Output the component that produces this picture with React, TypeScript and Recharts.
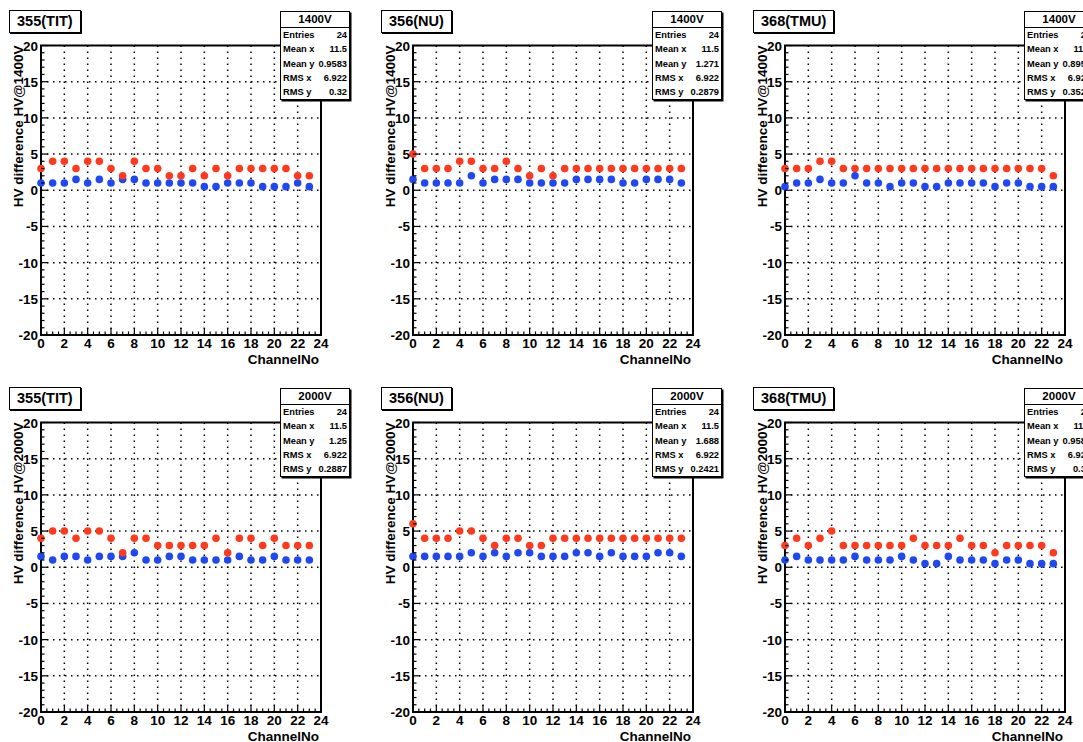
import React from 'react';
import { ScatterChart, Scatter, XAxis, YAxis, ReferenceLine, ReferenceArea } from 'recharts';

const FONT = '"Liberation Sans", Arial, Helvetica, sans-serif';
const RED = '#ff3a1c';
const BLUE = '#1f48f2';

const channels = [0, 1, 2, 3, 4, 5, 6, 7, 8, 9, 10, 11, 12, 13, 14, 15, 16, 17, 18, 19, 20, 21, 22, 23];

// 1400V
const red355_1400 = [3, 4, 4, 3, 4, 4, 3, 2, 4, 3, 3, 2, 2, 3, 2, 3, 2, 3, 3, 3, 3, 3, 2, 2];
const blue355_1400 = [1, 1, 1, 1.5, 1, 1.5, 1, 1.5, 1.5, 1, 1, 1, 1, 1, 0.5, 0.5, 1, 1, 1, 0.5, 0.5, 0.5, 1, 0.5];
const red356_1400 = [5, 3, 3, 3, 4, 4, 3, 3, 4, 3, 2, 3, 2, 3, 3, 3, 3, 3, 3, 3, 3, 3, 3, 3];
const blue356_1400 = [1.5, 1, 1, 1, 1, 2, 1, 1.5, 1.5, 1.5, 1, 1, 1, 1, 1.5, 1.5, 1.5, 1.5, 1, 1, 1.5, 1.5, 1.5, 1];
const red368_1400 = [3, 3, 3, 4, 4, 3, 3, 3, 3, 3, 3, 3, 3, 3, 3, 3, 3, 3, 3, 3, 3, 3, 3, 2];
const blue368_1400 = [0.5, 1, 1, 1.5, 1, 1, 2, 1, 1, 0.5, 1, 1, 0.5, 0.5, 1, 1, 1, 1, 0.5, 1, 1, 0.5, 0.5, 0.5];

// 2000V
const red355_2000 = [4, 5, 5, 4, 5, 5, 4, 2, 4, 4, 3, 3, 3, 3, 3, 4, 2, 4, 4, 3, 4, 3, 3, 3];
const blue355_2000 = [1.5, 1, 1.5, 1.5, 1, 1.5, 1.5, 1.5, 2, 1, 1, 1.5, 1.5, 1, 1, 1, 1, 1.5, 1, 1, 1.5, 1, 1, 1];
const red356_2000 = [6, 4, 4, 4, 5, 5, 4, 3, 4, 4, 3, 3, 4, 4, 4, 4, 4, 4, 4, 4, 4, 4, 4, 4];
const blue356_2000 = [1.5, 1.5, 1.5, 1.5, 1.5, 2, 1.5, 2, 1.5, 2, 2, 1.5, 1.5, 1.5, 2, 2, 1.5, 2, 1.5, 1.5, 1.5, 2, 2, 1.5];
const red368_2000 = [3, 4, 3, 4, 5, 3, 3, 3, 3, 3, 3, 4, 3, 3, 3, 4, 3, 3, 2, 3, 3, 3, 3, 2];
const blue368_2000 = [1, 1.5, 1, 1, 1, 1, 1.5, 1, 1, 1, 1.5, 1, 0.5, 0.5, 1.5, 1, 1, 1, 0.5, 1, 1, 0.5, 0.5, 0.5];

const xTicks = channels.concat([24]).flatMap((c) => (c < 24 ? [c, c + 0.5] : [c]));
const yTicks = [-20, -19, -18, -17, -16, -15, -14, -13, -12, -11, -10, -9, -8, -7, -6, -5, -4, -3, -2, -1, 0,
  1, 2, 3, 4, 5, 6, 7, 8, 9, 10, 11, 12, 13, 14, 15, 16, 17, 18, 19, 20];
const xGrid = [2, 4, 6, 8, 10, 12, 14, 16, 18, 20, 22];
const yGrid = [-15, -10, -5, 0, 5, 10, 15];

const toPoints = (ys: number[]) => channels.map((c, i) => ({ x: c, y: ys[i] }));

const XTick = (props: any) => {
  const { x, y, payload } = props;
  const v = payload.value;
  const major = v % 2 === 0;
  return (
    <g>
      <line x1={x} y1={y} x2={x} y2={y - (major ? 7 : 3.5)} stroke="#000" strokeWidth={1.2} />
      {major && (
        <text x={x} y={y + 13} textAnchor="middle" fontSize={13.5} fontWeight="bold" fontFamily={FONT} fill="#000">
          {v}
        </text>
      )}
    </g>
  );
};

const YTick = (props: any) => {
  const { x, y, payload } = props;
  const v = payload.value;
  const major = v % 5 === 0;
  return (
    <g>
      <line x1={x} y1={y} x2={x + (major ? 7 : 3.5)} y2={y} stroke="#000" strokeWidth={1.2} />
      {major && (
        <text x={x - 3} y={y + 5} textAnchor="end" fontSize={13.5} fontWeight="bold" fontFamily={FONT} fill="#000">
          {v}
        </text>
      )}
    </g>
  );
};

const dot = (color: string) => (props: any) => <circle cx={props.cx} cy={props.cy} r={3.8} fill={color} />;

interface PanelProps {
  left: number;
  top: number;
  title: string;
  hv: string;
  red: number[];
  blue: number[];
  meanY: string;
  rmsY: string;
}

const Panel: React.FC<PanelProps> = ({ left, top, title, hv, red, blue, meanY, rmsY }) => {
  const rows = [
    ['Entries', '24'],
    ['Mean x', '11.5'],
    ['Mean y', meanY],
    ['RMS x', '6.922'],
    ['RMS y', rmsY],
  ];
  return (
    <div style={{ position: 'absolute', left, top, width: 372, height: 377 }}>
      <ScatterChart width={372} height={377} margin={{ top: 45.5, right: 51, bottom: 0, left: 0 }}>
        <XAxis
          type="number"
          dataKey="x"
          domain={[0, 24]}
          ticks={xTicks}
          interval={0}
          tickSize={0}
          tickMargin={0}
          axisLine={false}
          tickLine={false}
          tick={<XTick />}
          height={42}
          label={{
            content: (p: any) => (
              <text
                x={p.viewBox.x + p.viewBox.width - 2}
                y={p.viewBox.y + 29}
                textAnchor="end"
                fontSize={13.5}
                fontWeight="bold"
                fontFamily={FONT}
                fill="#000"
              >
                ChannelNo
              </text>
            ),
          }}
        />
        <YAxis
          type="number"
          dataKey="y"
          domain={[-20, 20]}
          ticks={yTicks}
          interval={0}
          tickSize={0}
          tickMargin={0}
          axisLine={false}
          tickLine={false}
          tick={<YTick />}
          width={41}
          label={{
            content: (p: any) => {
              const lx = p.viewBox.x + 23;
              const ly = p.viewBox.y;
              return (
                <text
                  x={lx}
                  y={ly}
                  transform={`rotate(-90, ${lx}, ${ly})`}
                  textAnchor="end"
                  fontSize={13.5}
                  fontWeight="bold"
                  fontFamily={FONT}
                  fill="#000"
                >
                  {`HV difference HV@${hv}`}
                </text>
              );
            },
          }}
        />
        {yGrid.map((v) => (
          <ReferenceLine key={`gy${v}`} y={v} stroke="#000" strokeWidth={1.5} strokeDasharray="1.5 4.5" />
        ))}
        {xGrid.map((v) => (
          <ReferenceLine key={`gx${v}`} x={v} stroke="#000" strokeWidth={1.5} strokeDasharray="1.5 4.5" />
        ))}
        <ReferenceArea x1={0} x2={24} y1={-20} y2={20} fill="none" stroke="#000" strokeWidth={2} />
        <Scatter data={toPoints(blue)} shape={dot(BLUE)} isAnimationActive={false} />
        <Scatter data={toPoints(red)} shape={dot(RED)} isAnimationActive={false} />
      </ScatterChart>
      <div
        style={{
          position: 'absolute',
          left: 9,
          top: 10,
          height: 21,
          padding: '0 7px',
          border: '1.5px solid #000',
          boxShadow: '1px 1px 0 #000',
          background: '#fff',
          fontFamily: FONT,
          fontWeight: 'bold',
          fontSize: 14.5,
          lineHeight: '21px',
        }}
      >
        {title}
      </div>
      <div
        style={{
          position: 'absolute',
          left: 280,
          top: 11,
          width: 68,
          height: 87,
          border: '1.5px solid #000',
          boxShadow: '1.5px 1.5px 0 #000',
          background: '#fff',
          fontFamily: FONT,
          fontWeight: 'bold',
        }}
      >
        <div style={{ height: 15, lineHeight: '15px', textAlign: 'center', fontSize: 11.5, borderBottom: '1px solid #000' }}>
          {hv}
        </div>
        {rows.map(([k, v]) => (
          <div
            key={k}
            style={{
              display: 'flex',
              justifyContent: 'space-between',
              height: 14.3,
              lineHeight: '14.3px',
              fontSize: 9.3,
              padding: '0 2px 0 2px',
            }}
          >
            <span>{k}</span>
            <span>{v}</span>
          </div>
        ))}
      </div>
    </div>
  );
};

export default function App() {
  return (
    <div style={{ position: 'absolute', left: 0, top: 0, width: 1083, height: 742, overflow: 'hidden', background: '#fff' }}>
      <Panel left={0} top={0} title="355(TIT)" hv="1400V" red={red355_1400} blue={blue355_1400} meanY="0.9583" rmsY="0.32" />
      <Panel left={372} top={0} title="356(NU)" hv="1400V" red={red356_1400} blue={blue356_1400} meanY="1.271" rmsY="0.2879" />
      <Panel left={744} top={0} title="368(TMU)" hv="1400V" red={red368_1400} blue={blue368_1400} meanY="0.8958" rmsY="0.3529" />
      <Panel left={0} top={377} title="355(TIT)" hv="2000V" red={red355_2000} blue={blue355_2000} meanY="1.25" rmsY="0.2887" />
      <Panel left={372} top={377} title="356(NU)" hv="2000V" red={red356_2000} blue={blue356_2000} meanY="1.688" rmsY="0.2421" />
      <Panel left={744} top={377} title="368(TMU)" hv="2000V" red={red368_2000} blue={blue368_2000} meanY="0.9583" rmsY="0.32" />
    </div>
  );
}
